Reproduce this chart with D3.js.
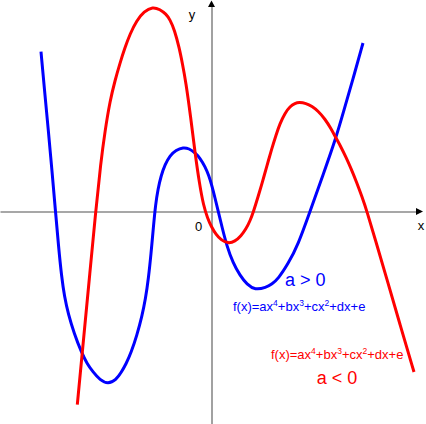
<!DOCTYPE html>
<html>
<head>
<meta charset="utf-8">
<script src="https://cdn.jsdelivr.net/npm/d3@7"></script>
<style>
  body { margin: 0; background: #fff; }
  text { font-family: "Liberation Sans", Arial, sans-serif; }
</style>
</head>
<body>
<div id="container"></div>
<script>
// points, in pixel-sized units from where the axes cross
const bluePoints = [
    [-170.5, 159.8], [-167, 121.5], [-163.2, 81.5], [-159.5, 40.5], [-156, 0],
    [-153, -34.5], [-150, -64.5], [-147, -85.5], [-143.2, -102.5], [-137.5, -121.5],
    [-129.8, -141.5], [-124.5, -152], [-118.5, -160.5], [-111.5, -168.5], [-103.5, -172.5],
    [-95.5, -168.5], [-90, -160.5], [-85.5, -152.5], [-80.5, -141.5], [-74.5, -123.5],
    [-69.5, -104.5], [-66, -87.5], [-63, -66.5], [-60.5, -42.5], [-58, -14.5],
    [-56, 6.5], [-53.5, 22.5], [-50.5, 35.5], [-46.5, 47], [-41.5, 56],
    [-35.5, 61.5], [-28.2, 64.2], [-22.5, 63], [-16.5, 58.8], [-11.5, 53.5],
    [-6.5, 45], [-2.5, 35.5], [0.5, 25.5], [3.5, 13.5], [6.8, 0],
    [10.5, -15.5], [15.2, -34], [21.5, -51.5], [28.5, -64], [35.5, -73],
    [43.5, -78.5], [54.5, -76], [60.5, -72.5], [66.5, -67.5], [76.5, -52.5],
    [86.5, -33.5], [98.5, 0], [111.5, 36.5], [124.5, 73.5], [132.5, 101.5],
    [141.2, 131.5], [151.5, 168.5]
]

const redPoints = [
    [-134.2, -193.2], [-128.5, -133.5], [-122.2, -67.5], [-115.8, 0], [-110.8, 48.2],
    [-106.5, 80.5], [-101.5, 110.5], [-96.5, 131], [-91.5, 148.5], [-86.5, 164],
    [-81.5, 177.5], [-74.8, 191], [-67.5, 200], [-58.8, 204.8], [-51.5, 202],
    [-45.5, 197.5], [-41.5, 192], [-37, 181.5], [-32.2, 163.5], [-29, 147.5],
    [-25.8, 130.5], [-20.8, 94.5], [-16.5, 58.8], [-12, 27.5], [-8, 6],
    [-4, -6.5], [0, -15.5], [4.5, -23], [9.5, -28.5], [16.5, -32],
    [23.5, -30], [29.5, -24.5], [34.5, -17.5], [38.5, -9.5], [42, 0],
    [46.5, 14.5], [51.2, 30.5], [55.5, 46], [60.2, 62.5], [64.5, 76.5],
    [68.5, 88], [73.5, 98.5], [78.5, 105], [83.5, 108.3], [87.8, 109.2],
    [94.5, 108.2], [100.5, 105.2], [106.5, 100.5], [113.5, 92.5], [119.5, 83],
    [124.5, 73.5], [129.5, 64.5], [134.5, 54.3], [139.5, 43.1], [145.2, 29],
    [150.5, 14.7], [155.5, 0], [164.5, -30.5], [174.8, -65.5], [188.5, -113],
    [202.5, -160.5]
]

const axisLabels = ["x", "y", "0"]
const caseLabels = ["a > 0", "a < 0"]
const formulaParts = ["f(x)=ax", "4", "+bx", "3", "+cx", "2", "+dx+e"]

const width = 426, height = 424

const svg = d3.select("div#container").append("svg")
    .attr("width", width)
    .attr("height", height)

const xScale = d3.scaleLinear().domain([-211.5, 214.5]).range([0, width])
const yScale = d3.scaleLinear().domain([211.5, -212.5]).range([0, height])

const axisColor = "#8a8a8a"

// x axis: plain line, no ticks, arrow at the right
const xAxisScale = d3.scaleLinear().domain([xScale.invert(0), xScale.invert(417)]).range([0, 417])
svg.append("g")
    .attr("class", "axis")
    .attr("transform", "translate(0," + yScale(0) + ")")
    .call(d3.axisBottom(xAxisScale).tickValues([]).tickSizeOuter(0))
    .call(g => g.select(".domain").attr("stroke", axisColor).attr("stroke-width", 1.6))

// y axis
const yAxisScale = d3.scaleLinear().domain([yScale.invert(6), yScale.invert(424)]).range([6, 424])
svg.append("g")
    .attr("class", "axis")
    .attr("transform", "translate(" + xScale(0) + ",0)")
    .call(d3.axisLeft(yAxisScale).tickValues([]).tickSizeOuter(0))
    .call(g => g.select(".domain").attr("stroke", axisColor).attr("stroke-width", 1.6))

// arrow heads
const ox = xScale(0), oy = yScale(0)
svg.append("path")
    .attr("d", d3.line()([[416, oy - 3.5], [423, oy], [416, oy + 3.5]]) + "Z")
    .attr("fill", "#000")
svg.append("path")
    .attr("d", d3.line()([[ox - 3.5, 7], [ox, 0.5], [ox + 3.5, 7]]) + "Z")
    .attr("fill", "#000")

// axis labels
svg.append("text").attr("x", 421).attr("y", 230).attr("text-anchor", "middle")
    .style("font-size", "13px").text(axisLabels[0])
svg.append("text").attr("x", 192).attr("y", 19).attr("text-anchor", "middle")
    .style("font-size", "13px").text(axisLabels[1])
svg.append("text").attr("x", 198.5).attr("y", 231).attr("text-anchor", "middle")
    .style("font-size", "13px").text(axisLabels[2])

// basis smooths out small reading errors between the points
const line = d3.line()
    .x(d => xScale(d[0]))
    .y(d => yScale(d[1]))
    .curve(d3.curveBasis)

svg.append("path")
    .datum(bluePoints)
    .attr("fill", "none")
    .attr("stroke", "#0000ff")
    .attr("stroke-width", 3)
    .attr("d", line)

svg.append("path")
    .datum(redPoints)
    .attr("fill", "none")
    .attr("stroke", "#ff0000")
    .attr("stroke-width", 3)
    .attr("d", line)

// formula with superscripts
function formula(x, y, color) {
    const t = svg.append("text")
        .attr("x", x).attr("y", y)
        .attr("fill", color)
        .style("font-size", "13px")
    formulaParts.forEach((p, i) => {
        const sup = i % 2 === 1
        t.append("tspan")
            .attr("dy", sup ? -5 : (i > 0 ? 5 : 0))
            .style("font-size", sup ? "8.5px" : "13px")
            .text(p)
    })
}

svg.append("text").attr("x", 285).attr("y", 286)
    .attr("fill", "#0000ff").style("font-size", "18px").text(caseLabels[0])
formula(233, 311, "#0000ff")

formula(271, 359, "#ff0000")
svg.append("text").attr("x", 337).attr("y", 384).attr("text-anchor", "middle")
    .attr("fill", "#ff0000").style("font-size", "18px").text(caseLabels[1])
</script>
</body>
</html>
